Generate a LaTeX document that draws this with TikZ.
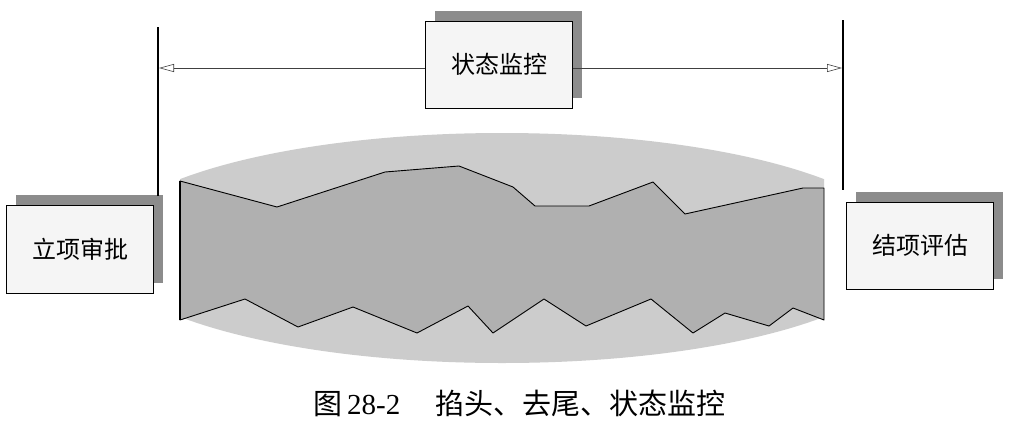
\documentclass[tikz,border=0pt]{standalone}
\usepackage{fontspec}
\setmainfont{Liberation Serif}
\newfontfamily\cjk{Noto Sans CJK SC}
\usetikzlibrary{arrows.meta,shadows}
\begin{document}
\begin{tikzpicture}[x=1pt,y=-1pt,
  stagebox/.style={draw=black,line width=0.8pt,fill=black!4,inner sep=0pt,
    minimum width=147pt,minimum height=87pt,
    font=\cjk\fontsize{24}{24}\selectfont,
    drop shadow={shadow xshift=9pt,shadow yshift=10pt,fill=black!45,opacity=1}},
  vline/.style={draw=black,line width=1.4pt},
  arr/.style={draw=black!75,line width=0.6pt,-{Triangle[open,length=15pt,width=8pt]}},
  lens/.style={fill=black!20},
  band/.style={fill=black!31,draw=black,line width=0.9pt,line join=round},
  capt/.style={font=\fontsize{29}{29}\selectfont,inner sep=0pt,anchor=base west}]
\useasboundingbox (0,0) rectangle (1009,426);
\fill[white] (0,0) rectangle (1009,426);
% lens (clipped ellipse)
\begin{scope}
  \clip (180,0) rectangle (824,426);
  \fill[lens] (502,248) ellipse [x radius=402, y radius=115];
\end{scope}
% project band
\path[band] (180,181) -- (277,207) -- (385,172) -- (459,166) -- (513,187) -- (535,206)
  -- (589,206) -- (653,182) -- (685,214) -- (803,188) -- (824,188)
  -- (824,320) -- (793,308) -- (769,326) -- (725,313) -- (693,333) -- (651,299)
  -- (586,326) -- (544,299) -- (493,333) -- (468,306) -- (417,333) -- (353,307)
  -- (298,327) -- (245,299) -- (180,320) -- cycle;
\coordinate (bl1) at (180,181);
\coordinate (bl2) at (180,320);
\draw[line width=1.6pt] (bl1) -- (bl2);
% boxes
\node[stagebox] (mon) at (499,64.5) {\raisebox{-5pt}{状态监控}};
\node[stagebox,minimum height=88pt] (start) at (80,249) {\raisebox{-5pt}{立项审批}};
\node[stagebox] (end) at (920,245.5) {\raisebox{-3pt}{结项评估}};
% vertical boundary lines
\coordinate (Ltop) at (158,27);
\coordinate (Lbot) at (158,196);
\coordinate (Rtop) at (843,20);
\coordinate (Rbot) at (843,190);
\draw[vline] (Ltop) -- (Lbot);
\draw[vline] (Rtop) -- (Rbot);
% arrows
\coordinate (la) at (159,68);
\coordinate (ra) at (842,68);
\draw[arr] (mon.west |- la) -- (la);
\draw[arr] (mon.east |- ra) -- (ra);
% caption
\node[capt] (cap) at (313,414) {{\cjk 图}\hspace{5pt}28-2\hspace{35pt}{\cjk 掐头、去尾、状态监控}};
\end{tikzpicture}
\end{document}
